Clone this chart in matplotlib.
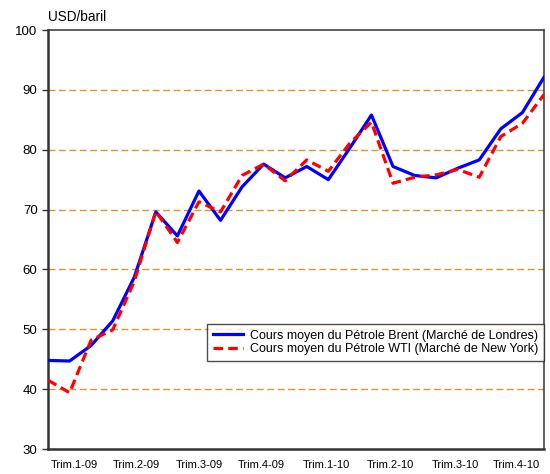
import numpy as np
import matplotlib.pyplot as plt

plt.rcParams['font.family'] = ['Liberation Sans', 'DejaVu Sans']

# monthly averages, Jan 2009 .. Dec 2010 (USD/baril)
brent = [44.8, 44.7, 47.3, 51.4, 58.7, 69.6, 65.6, 73.1, 68.2, 73.8, 77.6, 75.3,
         77.2, 75.0, 80.3, 85.8, 77.2, 75.7, 75.3, 76.9, 78.3, 83.5, 86.2, 92.1]
wti = [41.5, 39.4, 48.2, 49.9, 58.0, 69.7, 64.5, 71.3, 69.6, 75.7, 77.6, 74.8,
       78.3, 76.4, 81.1, 84.6, 74.4, 75.4, 75.8, 76.7, 75.4, 82.2, 84.4, 89.2]
quarter_labels = ['Trim.1-09', 'Trim.2-09', 'Trim.3-09', 'Trim.4-09',
                  'Trim.1-10', 'Trim.2-10', 'Trim.3-10', 'Trim.4-10']

x = np.arange(len(brent))

fig = plt.figure(figsize=(5.5, 4.74), dpi=100)
ax = fig.add_axes([0.0873, 0.0527, 0.9017, 0.884])

for v in range(40, 100, 10):
    ax.axhline(v, color='#D9982F', lw=1, dashes=(5, 2.5), zorder=1)

ax.plot(x, brent, color='#0000FF', lw=2.3, zorder=3,
        label='Cours moyen du Pétrole Brent (Marché de Londres)')
ax.plot(x, wti, color='#FF0000', lw=2.3, dashes=(3, 1.6), zorder=4,
        label='Cours moyen du Pétrole WTI (Marché de New York)')

ax.set_xlim(0, len(brent) - 1)
ax.set_ylim(30, 100)
ax.set_yticks(range(30, 101, 10))
ax.set_xticks([1.2, 4.1, 7.0, 9.9, 12.9, 15.9, 18.9, 21.7])
ax.set_xticklabels(quarter_labels, fontsize=8)
ax.tick_params(axis='x', length=0, pad=8)
ax.tick_params(axis='y', length=4, width=1, labelsize=9.5, color='#333333')

for side in ['left', 'bottom']:
    ax.spines[side].set_linewidth(1.8)
    ax.spines[side].set_color('#333333')
for side in ['top', 'right']:
    ax.spines[side].set_linewidth(1.1)
    ax.spines[side].set_color('#333333')

fig.text(0.088, 0.956, 'USD/baril', fontsize=9.8, ha='left', va='baseline')

leg = ax.legend(loc='upper right', bbox_to_anchor=(1.0, 0.298), fontsize=9,
                frameon=True, fancybox=False, borderpad=0.45, handlelength=2.4,
                labelspacing=0.1, handletextpad=0.6, borderaxespad=0)
leg.get_frame().set_edgecolor('#222222')
leg.get_frame().set_linewidth(1.0)

fig.savefig('out.png', dpi=100)
